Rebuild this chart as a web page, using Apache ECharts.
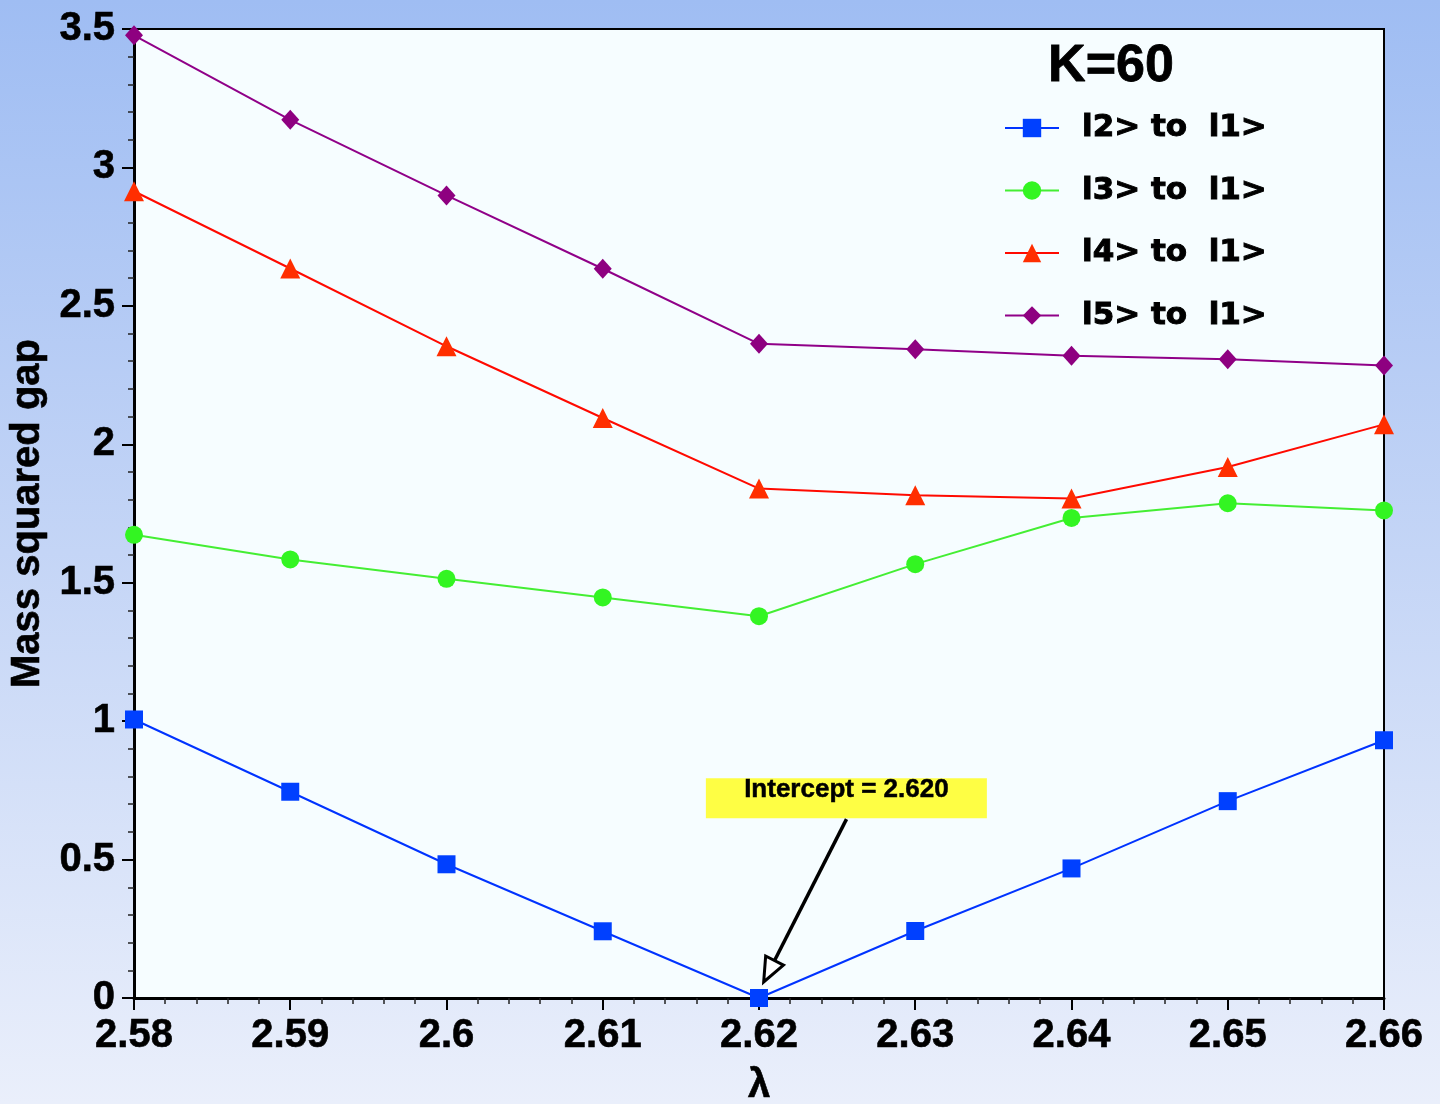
<!DOCTYPE html>
<html>
<head>
<meta charset="utf-8">
<script src="https://cdn.jsdelivr.net/npm/echarts@6/dist/echarts.min.js"></script>
<style>
  html, body { margin: 0; padding: 0; }
  #chart { width: 1440px; height: 1104px; }
</style>
</head>
<body>
<div id="chart"></div>
<script>
// Coupling values (x axis)
const lambdaValues = [2.58, 2.59, 2.60, 2.61, 2.62, 2.63, 2.64, 2.65, 2.66];

// Mass squared gaps between excited states and the ground state, K = 60
const gap21 = [1.006, 0.745, 0.483, 0.241, 0.000, 0.242, 0.468, 0.711, 0.931];
const gap31 = [1.673, 1.584, 1.514, 1.447, 1.379, 1.567, 1.734, 1.787, 1.761];
const gap41 = [2.914, 2.635, 2.354, 2.095, 1.840, 1.816, 1.804, 1.918, 2.072];
const gap51 = [3.477, 3.172, 2.899, 2.634, 2.363, 2.343, 2.320, 2.307, 2.285];

const seriesNames = ['l2> to  l1>', 'l3> to  l1>', 'l4> to  l1>', 'l5> to  l1>'];
const yTicks = [0, 0.5, 1, 1.5, 2, 2.5, 3, 3.5];
const titleText = 'K=60';
const interceptValue = 2.620;

const FONT = '"Liberation Sans", Arial, Helvetica, sans-serif';
const LEGEND_FONT = '"DejaVu Sans", "Liberation Sans", sans-serif';

function pairs(values) {
  return lambdaValues.map((x, i) => [x, values[i]]);
}

function lineSeries(name, values, color, markColor, symbol, size) {
  return {
    name: name,
    type: 'line',
    data: pairs(values),
    symbol: symbol,
    symbolSize: size,
    showAllSymbol: true,
    lineStyle: { color: color, width: 2 },
    itemStyle: { color: markColor },
    emphasis: { disabled: true },
    animation: false,
    z: 3
  };
}

const boldText = (size) => ({
  fontFamily: FONT, fontWeight: 'bold', fontSize: size, color: '#000',
  textBorderColor: '#000', textBorderWidth: 0.6
});

const chart = echarts.init(document.getElementById('chart'), null, { renderer: 'canvas' });

const option = {
  animation: false,
  backgroundColor: {
    type: 'linear', x: 0, y: 0, x2: 0, y2: 1,
    colorStops: [
      { offset: 0, color: '#9fbdf3' },
      { offset: 0.5, color: '#c4d5f6' },
      { offset: 1, color: '#eaeffb' }
    ]
  },
  textStyle: { fontFamily: FONT },
  title: {
    text: titleText,
    left: 1111,
    top: 41,
    padding: 0,
    textAlign: 'center',
    textStyle: Object.assign(boldText(52), { textBorderWidth: 0.8 })
  },
  legend: {
    orient: 'vertical',
    left: 1004,
    top: 110,
    padding: 0,
    itemWidth: 54,
    itemHeight: 23,
    itemGap: 26.5,
    selectedMode: false,
    textStyle: {
      fontFamily: LEGEND_FONT, fontWeight: 'bold', fontSize: 31, color: '#000',
      textBorderColor: '#000', textBorderWidth: 1,
      lineHeight: 36, padding: [0, 0, 0, 18]
    },
    data: seriesNames
  },
  grid: {
    left: 134, right: 56, top: 29, bottom: 106,
    show: true,
    backgroundColor: '#f6fdff',
    borderColor: '#000',
    borderWidth: 2,
    containLabel: false,
    outerBoundsMode: 'none'
  },
  xAxis: {
    type: 'value',
    min: lambdaValues[0],
    max: lambdaValues[lambdaValues.length - 1],
    interval: 0.01,
    name: 'λ',
    nameLocation: 'middle',
    nameGap: 68,
    nameTextStyle: boldText(40),
    axisLine: { show: true, onZero: false, lineStyle: { color: '#000', width: 3 } },
    axisTick: { show: true, inside: false, length: 12, lineStyle: { color: '#000', width: 2 } },
    minorTick: { show: true, splitNumber: 5, length: 6, lineStyle: { color: '#222', width: 1.5 } },
    splitLine: { show: false },
    axisLabel: Object.assign(boldText(40), {
      margin: 18,
      formatter: v => String(+v.toFixed(2))
    })
  },
  yAxis: {
    type: 'value',
    min: yTicks[0],
    max: yTicks[yTicks.length - 1],
    interval: 0.5,
    name: 'Mass squared gap',
    nameLocation: 'middle',
    nameGap: 75,
    nameTextStyle: boldText(40),
    axisLine: { show: true, onZero: false, lineStyle: { color: '#000', width: 3 } },
    axisTick: { show: true, inside: false, length: 12, lineStyle: { color: '#000', width: 2 } },
    minorTick: { show: true, splitNumber: 5, length: 6, lineStyle: { color: '#222', width: 1.5 } },
    splitLine: { show: false },
    axisLabel: Object.assign(boldText(40), {
      margin: 19,
      formatter: v => String(+v.toFixed(1))
    })
  },
  series: [
    lineSeries(seriesNames[0], gap21, '#0033ff', '#0040ff', 'rect', 18),
    lineSeries(seriesNames[1], gap31, '#44ee33', '#33f522', 'circle', 18),
    lineSeries(seriesNames[2], gap41, '#ff0a00', '#ff2e00', 'triangle', 20),
    lineSeries(seriesNames[3], gap51, '#900088', '#8e0080', 'diamond', [18, 20])
  ]
};

chart.setOption(option);

// Annotation: yellow label with an open-headed arrow pointing at the zero crossing
function annotate() {
  const toPx = p => chart.convertToPixel({ gridIndex: 0 }, p);
  const boxAnchor = toPx([2.6166, 0.794]);      // top-left of the label box
  const arrowStart = toPx([2.6256, 0.646]);
  const arrowTip = toPx([interceptValue + 0.0003, 0.058]);

  const dx = arrowTip[0] - arrowStart[0];
  const dy = arrowTip[1] - arrowStart[1];
  const len = Math.sqrt(dx * dx + dy * dy);
  const ux = dx / len, uy = dy / len;
  const headLen = 24, headHalf = 10;
  const base = [arrowTip[0] - ux * headLen, arrowTip[1] - uy * headLen];
  const left = [base[0] - uy * headHalf, base[1] + ux * headHalf];
  const right = [base[0] + uy * headHalf, base[1] - ux * headHalf];

  chart.setOption({
    graphic: [
      {
        type: 'rect',
        shape: { x: boxAnchor[0], y: boxAnchor[1], width: 281, height: 40 },
        style: { fill: '#fefe44' },
        z: 10
      },
      {
        type: 'text',
        x: boxAnchor[0] + 140.5,
        y: boxAnchor[1] + 12,
        style: {
          text: 'Intercept = ' + interceptValue.toFixed(3),
          fontFamily: FONT, fontWeight: 'bold', fontSize: 26,
          fill: '#000', stroke: '#000', lineWidth: 0.5,
          align: 'center', verticalAlign: 'middle'
        },
        z: 11
      },
      {
        type: 'line',
        shape: { x1: arrowStart[0], y1: arrowStart[1], x2: base[0], y2: base[1] },
        style: { stroke: '#000', lineWidth: 3.5 },
        z: 11
      },
      {
        type: 'polygon',
        shape: { points: [arrowTip, left, right] },
        style: { fill: '#ffffff', stroke: '#000', lineWidth: 3 },
        z: 11
      }
    ]
  });
}
annotate();
</script>
</body>
</html>
